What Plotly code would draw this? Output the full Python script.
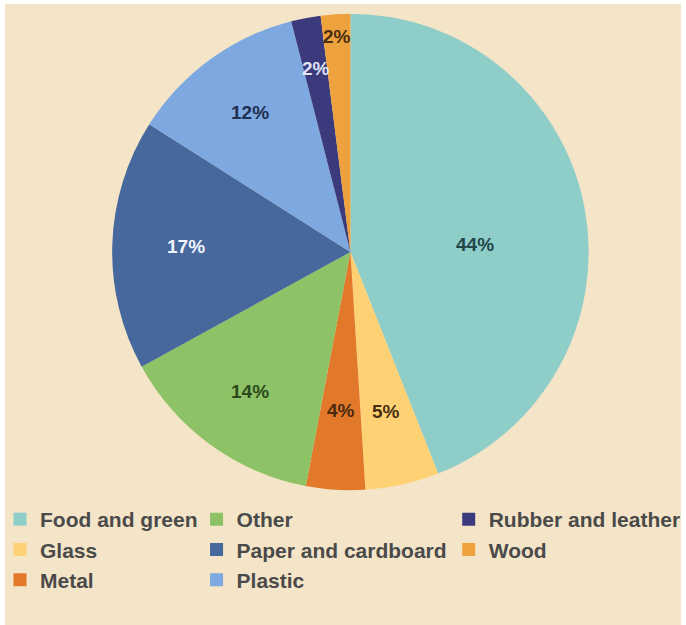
import math
import plotly.graph_objects as go

categories = ["Food and green", "Glass", "Metal", "Other", "Paper and cardboard",
              "Plastic", "Rubber and leather", "Wood"]
shares = [44, 5, 4, 14, 17, 12, 2, 2]
legend_columns = [["Food and green", "Glass", "Metal"],
                  ["Other", "Paper and cardboard", "Plastic"],
                  ["Rubber and leather", "Wood"]]

# styles
slice_colors = ["#8FCDC9", "#FED274", "#E1782A", "#8DC266", "#46689C",
                "#7DA8E0", "#3B3A7D", "#EEA23E"]
label_colors = ["#1F4649", "#4A3010", "#4A2A10", "#2D4A1C", "#F2F5FF",
                "#1E2F50", "#E0E4F5", "#4A3010"]
label_radius = [0.525, 0.68, 0.66, 0.72, 0.69, 0.72, 0.78, 0.90]   # fraction of pie radius
label_angle_nudge = [7.5, 0, 0, 0, 0, 0, 0, 0]                       # degrees

BG = "#F5E5C8"
W, H = 686, 625
PIE_X0, PIE_X1, PIE_Y0, PIE_Y1 = 113, 593, 12, 492   # pixel box of the pie

fig = go.Figure()
fig.add_trace(go.Pie(
    labels=categories, values=shares, sort=False, direction="clockwise", rotation=0,
    marker=dict(colors=slice_colors, line=dict(width=0)),
    textinfo="none",
    hoverinfo="label+percent",
    showlegend=False,
    domain=dict(x=[PIE_X0 / W, PIE_X1 / W], y=[(H - PIE_Y1) / H, (H - PIE_Y0) / H]),
))

# percentage labels, placed along each slice's bisector
cx, cy = (PIE_X0 + PIE_X1) / 2, (PIE_Y0 + PIE_Y1) / 2
R = (PIE_X1 - PIE_X0) / 2
total = sum(shares)
annotations = []
cum = 0
for i, v in enumerate(shares):
    mid = (cum + v / 2) / total * 360 + label_angle_nudge[i]
    cum += v
    r = label_radius[i] * R
    px = cx + r * math.sin(math.radians(mid))
    py = cy - r * math.cos(math.radians(mid))
    annotations.append(dict(
        x=px / W, y=1 - py / H, xref="paper", yref="paper", showarrow=False,
        text=f"{v}%", xanchor="center", yanchor="middle",
        font=dict(size=19, color=label_colors[i], family="Liberation Sans, Arial", weight="bold"),
    ))

legend_names = ["legend", "legend2", "legend3"]
for col, lname in zip(legend_columns, legend_names):
    for name in col:
        fig.add_trace(go.Scatter(
            x=[None], y=[None], mode="markers", name=name, legend=lname,
            marker=dict(symbol="square", size=13, color=slice_colors[categories.index(name)]),
            showlegend=True, hoverinfo="skip",
        ))

legend_style = dict(
    orientation="v", yanchor="top", xanchor="left", y=(H - 499) / H,
    bgcolor="rgba(0,0,0,0)", borderwidth=0,
    font=dict(size=21, color="#4A4A4A", family="Liberation Sans, Arial", weight="bold"),
    itemclick=False, itemdoubleclick=False, tracegroupgap=0,
)
fig.update_layout(
    width=W, height=H,
    margin=dict(l=0, r=0, t=0, b=0),
    paper_bgcolor="white",
    plot_bgcolor="rgba(0,0,0,0)",
    xaxis=dict(visible=False), yaxis=dict(visible=False),
    legend=dict(legend_style, x=0 / W),
    legend2=dict(legend_style, x=198 / W),
    legend3=dict(legend_style, x=452 / W),
    annotations=annotations,
    shapes=[dict(type="rect", xref="paper", yref="paper", x0=5 / W, x1=1, y0=0, y1=(H - 4) / H,
                 fillcolor=BG, line=dict(width=0), layer="below")],
)

fig.write_html("out.html", config={"displayModeBar": False},
               post_script="document.body.style.margin='0';")
